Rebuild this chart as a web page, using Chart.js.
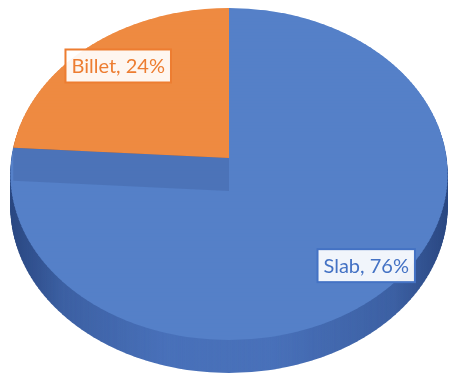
<!DOCTYPE html>
<html>
<head>
<meta charset="utf-8">
<script src="https://cdn.jsdelivr.net/npm/chart.js@4.4.0/dist/chart.umd.min.js"></script>
<style>
  html, body { margin: 0; background: #fff; }
  canvas { display: block; }
</style>
</head>
<body>
<canvas id="pie" width="451" height="375"></canvas>
<script>
const categories = ['Slab', 'Billet'];
const shares = [76, 24];
const topColors = ['#5580c8', '#ee8a41'];
const sideColors = ['#4c75bf', '#c96a2a'];
const labelColors = ['#4472c4', '#ed7d31'];

// perspective view of the pie top face
const view = { cx: 229, cy: 158, k: 217.5, q: 0.756, p: 0.0964, depth: 33, bands: 100,
  labelRadius: 0.83, labelDx: 6, labelDy: 2 };

function project(u, v) {
  const d = 1 - view.p * v;
  return { x: view.cx + view.k * u / d, y: view.cy + view.k * view.q * v / d };
}

// draw the library's arcs band by band, each band with its own scale
function drawArcs(ctx, arcs, colors, dy) {
  const n = view.bands;
  for (let i = 0; i < n; i++) {
    const v0 = -1 + 2 * i / n;
    const v1 = -1 + 2 * (i + 1) / n;
    const y0 = project(0, v0).y + dy;
    const y1 = project(0, v1).y + dy;
    const vm = (v0 + v1) / 2;
    arcs.forEach((arc, j) => {
      const r = arc.outerRadius;
      const sx = view.k / (1 - view.p * vm) / r;
      const sy = (y1 - y0) / ((v1 - v0) * r);
      const srcY = arc.y + v0 * r;
      ctx.save();
      ctx.setTransform(1, 0, 0, 1, 0, 0);
      ctx.beginPath();
      ctx.rect(0, y0 - 0.4, ctx.canvas.width, y1 - y0 + 0.8);
      ctx.clip();
      ctx.setTransform(sx, 0, 0, sy, view.cx - sx * arc.x, y0 - sy * srcY);
      const saved = arc.options;
      arc.options = Object.assign({}, saved, { backgroundColor: colors[j], borderWidth: 0 });
      arc.draw(ctx);
      arc.options = saved;
      ctx.restore();
    });
  }
}

const pie3d = {
  id: 'pie3d',
  beforeDatasetsDraw(chart) {
    const ctx = chart.ctx;
    const arcs = chart.getDatasetMeta(0).data;
    const W = chart.width;

    // side wall
    for (let d = view.depth; d >= 1; d--) drawArcs(ctx, arcs, sideColors, d);
    ctx.save();
    ctx.globalCompositeOperation = 'source-atop';
    const g = ctx.createLinearGradient(view.cx - view.k, 0, view.cx + view.k, 0);
    g.addColorStop(0, 'rgba(15,35,80,0.55)');
    g.addColorStop(0.12, 'rgba(15,35,80,0.25)');
    g.addColorStop(0.35, 'rgba(15,35,80,0.05)');
    g.addColorStop(0.6, 'rgba(15,35,80,0.05)');
    g.addColorStop(0.88, 'rgba(15,35,80,0.25)');
    g.addColorStop(1, 'rgba(15,35,80,0.55)');
    ctx.fillStyle = g;
    ctx.fillRect(0, 0, W, chart.height);
    ctx.restore();

    // top face
    drawArcs(ctx, arcs, topColors, 0);

    // radial face under the Billet edge
    const a = arcs[1].startAngle;
    const p0 = project(0, 0);
    const p1 = project(Math.cos(a), Math.sin(a));
    ctx.save();
    ctx.beginPath();
    ctx.moveTo(p0.x, p0.y);
    ctx.lineTo(p1.x, p1.y);
    ctx.lineTo(p1.x, p1.y + view.depth);
    ctx.lineTo(p0.x, p0.y + view.depth);
    ctx.closePath();
    ctx.fillStyle = 'rgba(55,85,150,0.3)';
    ctx.fill();
    ctx.restore();
    return false;
  },
  afterDraw(chart) {
    const ctx = chart.ctx;
    const arcs = chart.getDatasetMeta(0).data;
    ctx.save();
    ctx.font = '20px Lato';
    ctx.textAlign = 'center';
    ctx.textBaseline = 'middle';
    arcs.forEach((arc, i) => {
      const mid = (arc.startAngle + arc.endAngle) / 2;
      const f = view.labelRadius;
      const c = project(f * Math.cos(mid), f * Math.sin(mid));
      c.x += view.labelDx;
      c.y += view.labelDy;
      const text = categories[i] + ', ' + shares[i] + '%';
      const w = ctx.measureText(text).width + 12;
      const h = 33;
      ctx.fillStyle = 'rgba(255,255,255,0.92)';
      ctx.fillRect(c.x - w / 2, c.y - h / 2, w, h);
      ctx.lineWidth = 2;
      ctx.strokeStyle = labelColors[i];
      ctx.strokeRect(c.x - w / 2, c.y - h / 2, w, h);
      ctx.fillStyle = labelColors[i];
      ctx.fillText(text, c.x, c.y + 1);
    });
    ctx.restore();
  }
};

new Chart(document.getElementById('pie'), {
  type: 'pie',
  data: {
    labels: categories,
    datasets: [{
      data: shares,
      backgroundColor: topColors,
      borderWidth: 0
    }]
  },
  options: {
    responsive: false,
    animation: false,
    plugins: {
      legend: { display: false },
      tooltip: { enabled: false }
    }
  },
  plugins: [pie3d]
});
</script>
</body>
</html>
